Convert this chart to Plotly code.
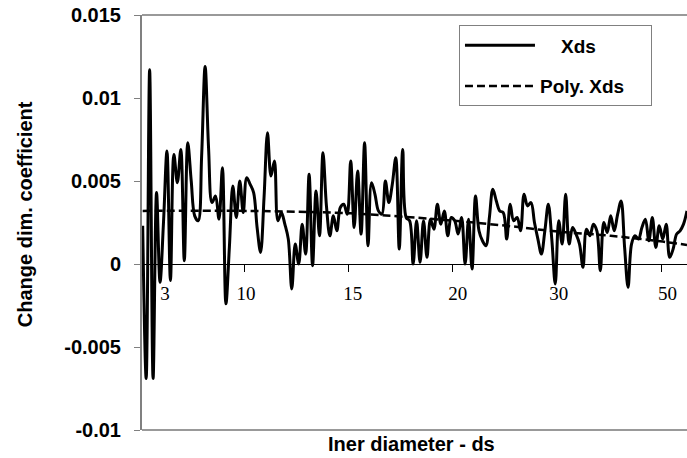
import plotly.graph_objects as go

# Measured series (x1e-3 scale applied below), equally spaced categories
xds_milli = [
    2.3, -6.9, 11.7, -6.9, 4.3, -1.1, 2.5, 6.8, -1.0, 6.6,
    4.9, 6.9, 0.2, 7.3, 5.0, 2.9, 2.6, 6.5, 11.9, 7.0,
    3.7, 4.1, 2.7, 5.8, -2.4, 1.0, 4.7, 2.8, 5.0, 3.1,
    5.2, 4.8, 4.3, 2.2, 0.7, 4.0, 7.9, 5.3, 6.2, 2.6,
    3.1, 2.4, 1.5, -1.5, 1.2, 0.0, 2.4, 0.6, 5.4, -0.1,
    4.4, 1.7, 6.7, 3.5, 1.7, 2.9, 2.0, 3.4, 3.6, 3.0,
    6.2, 2.2, 5.6, 1.8, 7.3, 1.1, 4.9, 4.2, 3.2, 3.0,
    5.0, 3.7, 4.8, 6.4, 0.9, 6.9, 2.8, 2.6, 0.0, 2.6,
    0.1, 2.6, 0.4, 2.7, 2.1, 3.6, 2.4, 3.2, 1.7, 2.8,
    2.6, 1.8, 2.8, 0.0, 2.7, -0.3, 4.1, 2.0, 1.4, 1.1,
    2.8, 4.5, 3.8, 3.2, 3.1, 1.5, 3.6, 2.6, 2.8, 2.0,
    4.2, 3.5, 3.7, 2.5, 1.5, 0.6, 2.0, 3.6, 1.5, -1.2,
    2.6, 1.2, 4.2, 1.2, 2.2, 1.8, 1.2, -0.2, 2.1, 1.7,
    2.4, 2.0, -0.4, 2.5, 1.9, 2.9, 2.0, 3.0, 3.8, 1.0,
    -1.4, 1.2, 1.7, 1.5, 2.2, 2.7, 1.4, 2.8, 1.0, 2.3,
    1.5, 2.4, 0.4, 0.9, 1.8, 2.0, 2.4, 3.2,
]
xds = [v / 1000 for v in xds_milli]
cats = list(range(len(xds)))

# Polynomial trend read at sample categories
poly_cats = [0, 30, 60, 75, 90, 105, 120, 135, 150, 157]
poly_milli = [3.2, 3.2, 3.05, 2.85, 2.6, 2.3, 1.95, 1.7, 1.35, 1.15]
poly_vals = [v / 1000 for v in poly_milli]

# Axis labels
x_label_text = ["3", "10", "15", "20", "30", "50"]
x_label_pos = [6.4, 29.8, 60.6, 90.9, 120.0, 151.4]
x_tick_marks = [29.5, 59.5, 89.5, 119.5, 149.5]
y_tick_vals = [0.015, 0.01, 0.005, 0, -0.005, -0.01]
y_tick_text = ["0.015", "0.01", "0.005", "0", "-0.005", "-0.01"]

SANS = "Arial, Liberation Sans, sans-serif"
SERIF = "Times New Roman, Liberation Serif, serif"
NB = "\u00a0"
PAD = "<span style='color:rgba(0,0,0,0)'>__</span>"

fig = go.Figure()
fig.add_trace(go.Scatter(
    x=cats, y=xds, mode="lines", name=NB * 4 + "Xds",
    legendgroup="a",
    line=dict(color="black", width=3, shape="spline", smoothing=1),
))
fig.add_trace(go.Scatter(
    x=poly_cats, y=poly_vals, mode="lines", name="Poly. Xds" + PAD,
    legendgroup="b",
    line=dict(color="black", width=2.5, dash="8px,4px", shape="spline"),
))

fig.update_layout(
    width=687, height=458,
    margin=dict(l=142, r=0, t=15, b=28),
    paper_bgcolor="white", plot_bgcolor="white",
    showlegend=True,
    legend=dict(
        x=0.5816, y=0.975, xanchor="left", yanchor="top",
        bordercolor="#808080", borderwidth=1, bgcolor="white",
        font=dict(family=SANS, size=19, weight="bold", color="black"),
        itemwidth=70, tracegroupgap=13,
    ),
    xaxis=dict(
        range=[-0.2, 157.0], anchor="free", position=0.4, automargin=False,
        showline=True, linecolor="black", linewidth=1,
        showgrid=False, zeroline=False,
        tickmode="array", tickvals=x_label_pos, ticktext=x_label_text,
        ticks="", ticklabelstandoff=12,
        tickfont=dict(family=SERIF, size=19, color="black"),
        minor=dict(tickmode="array", tickvals=x_tick_marks, ticks="outside",
                   ticklen=7, tickcolor="black", tickwidth=1, showgrid=False),
    ),
    yaxis=dict(
        range=[-0.01, 0.015], domain=[0, 1], automargin=False,
        showline=True, linecolor="#808080", linewidth=2,
        showgrid=False, zeroline=False,
        tickmode="array", tickvals=y_tick_vals, ticktext=y_tick_text,
        ticks="outside", ticklen=6, tickcolor="#808080", tickwidth=1,
        ticklabelstandoff=9,
        tickfont=dict(family=SANS, size=20, weight="bold", color="black"),
    ),
    shapes=[
        dict(type="line", xref="paper", yref="paper", x0=0, x1=1, y0=1, y1=1,
             line=dict(color="#999999", width=2)),
        dict(type="line", xref="paper", yref="paper", x0=0, x1=1, y0=0, y1=0,
             line=dict(color="#999999", width=2)),
    ],
    annotations=[
        dict(text="Change dim. coefficient", xref="paper", yref="paper",
             x=-0.2147, y=0.52, textangle=-90, showarrow=False,
             xanchor="center", yanchor="middle",
             font=dict(family=SANS, size=20, weight="bold", color="black")),
        dict(text="Iner diameter - ds", xref="paper", yref="paper",
             x=0.4936, y=-0.034, showarrow=False,
             xanchor="center", yanchor="middle",
             font=dict(family=SANS, size=20, weight="bold", color="black")),
    ],
)

fig.write_html("out.html", post_script="document.body.style.margin='0';",
               config={"displayModeBar": False})
